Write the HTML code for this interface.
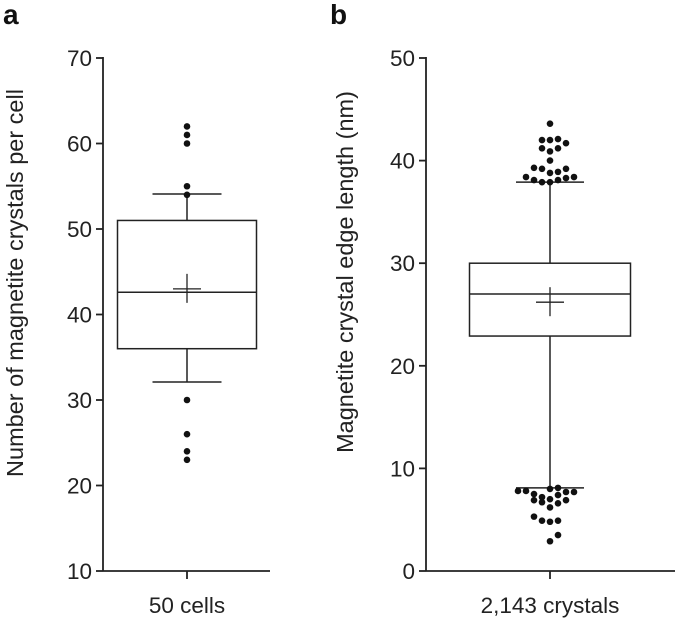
<!DOCTYPE html>
<html><head><meta charset="utf-8"><style>
body{margin:0;background:#fff}
svg{display:block;font-family:"Liberation Sans",Arial,sans-serif}
</style></head><body>
<svg id="c" width="675" height="620"></svg>
<script>
const leftTicks=[10,20,30,40,50,60,70];
const leftStats={q1:36,med:42.6,q3:51,lo:32.1,hi:54.1,mean:43.0};
const leftOut=[62,61,60,55,54,30,26,24,23];
const rightTicks=[0,10,20,30,40,50];
const rightStats={q1:22.9,med:27.0,q3:30.0,lo:8.1,hi:37.9,mean:26.2};
const rightOutVals=[43.6,42.0,42.0,42.1,41.7,41.2,40.9,41.2,40.0,39.3,39.2,38.8,38.9,39.2,38.4,38.1,37.9,37.9,38.1,38.3,38.4,
7.8,7.8,7.5,7.2,8.0,8.1,7.7,7.7,6.9,6.7,7.0,7.4,6.9,6.2,6.6,5.3,4.9,4.8,4.9,3.5,2.9];
const rightOutSlot=[0,-1,0,1,2,-1,0,1,0,-2,-1,0,1,2,-3,-2,-1,0,1,2,3,
-4,-3,-2,-1,0,1,2,3,-2,-1,0,1,2,0,1,-2,-1,0,1,1,0];
const svg=document.getElementById('c');
const NS='http://www.w3.org/2000/svg';
function mk(t,a,name){const e=document.createElementNS(NS,t);for(const k in a)e.setAttribute(k,a[k]);


svg.appendChild(e);return e;}
function panel(o){
 const y=v=>o.y0-(v-o.vmin)*(o.y0-o.y1)/(o.vmax-o.vmin);
 const S='#222';
 mk('line',{x1:o.ax,y1:o.y1-1,x2:o.ax,y2:o.y0,stroke:S,'stroke-width':1.8},'y-axis');
 mk('line',{x1:o.ax,y1:o.y0,x2:o.axEnd,y2:o.y0,stroke:S,'stroke-width':1.8},'x-axis');
 o.ticks.forEach(t=>{mk('line',{x1:o.ax-7,y1:y(t),x2:o.ax,y2:y(t),stroke:S,'stroke-width':1.8},'y-tick');
  const tx=mk('text',{x:o.ax-11,y:y(t)+8,'text-anchor':'end','font-size':22.5,fill:'#222'},'y-tick-label');tx.textContent=t;});
 mk('line',{x1:o.cx,y1:o.y0,x2:o.cx,y2:o.y0+8,stroke:S,'stroke-width':1.8},'x-tick');
 const xl=mk('text',{x:o.cx,y:o.y0+42,'text-anchor':'middle','font-size':22.5,fill:'#222'},'x-category-label');xl.textContent=o.cat;
 const yt=mk('text',{x:0,y:0,'text-anchor':'middle','font-size':23.5,fill:'#222',transform:`translate(${o.tx},${o.tcy}) rotate(-90)`},'y-axis-title');yt.textContent=o.title;
 const pl=mk('text',{x:o.px,y:24,'font-size':28,'font-weight':'bold',fill:'#111'},'panel-label');pl.textContent=o.label;
 const s=o.stats;
 mk('line',{x1:o.cx,y1:y(s.hi),x2:o.cx,y2:y(s.lo),stroke:S,'stroke-width':1.5},'whisker');
 mk('rect',{x:o.cx-o.bw/2,y:y(s.q3),width:o.bw,height:y(s.q1)-y(s.q3),fill:'#fff',stroke:S,'stroke-width':1.5},'iqr-box');
 mk('line',{x1:o.cx-o.bw/2,y1:y(s.med),x2:o.cx+o.bw/2,y2:y(s.med),stroke:S,'stroke-width':1.5},'median-line');
 mk('line',{x1:o.cx-o.cw/2,y1:y(s.hi),x2:o.cx+o.cw/2,y2:y(s.hi),stroke:S,'stroke-width':1.5},'whisker-cap-top');
 mk('line',{x1:o.cx-o.cw/2,y1:y(s.lo),x2:o.cx+o.cw/2,y2:y(s.lo),stroke:S,'stroke-width':1.5},'whisker-cap-bottom');
 mk('line',{x1:o.cx-14,y1:y(s.mean),x2:o.cx+14,y2:y(s.mean),stroke:S,'stroke-width':1.3},'mean-marker-h');
 mk('line',{x1:o.cx,y1:y(s.mean)-15,x2:o.cx,y2:y(s.mean)+14,stroke:S,'stroke-width':1.3},'mean-marker-v');
 o.out.forEach((v,i)=>mk('circle',{cx:o.cx+(o.slot?o.slot[i]*8:0),cy:y(v),r:3.3,fill:'#111'},'outlier-point'));
}
panel({ax:103,axEnd:270,y0:571,y1:58,vmin:10,vmax:70,ticks:leftTicks,cx:187,bw:139,cw:69,stats:leftStats,out:leftOut,cat:'50 cells',title:'Number of magnetite crystals per cell',tx:23,tcy:283,px:3,label:'a'});
panel({ax:426,axEnd:675,y0:571,y1:58,vmin:0,vmax:50,ticks:rightTicks,cx:550,bw:161,cw:68,stats:rightStats,out:rightOutVals,slot:rightOutSlot,cat:'2,143 crystals',title:'Magnetite crystal edge length (nm)',tx:353,tcy:272,px:330,label:'b'});
</script>
</body></html>
